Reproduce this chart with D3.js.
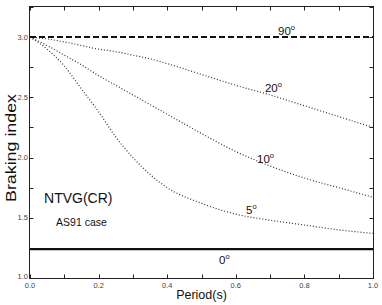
<!DOCTYPE html>
<html>
<head>
<meta charset="utf-8">
<script src="https://cdn.jsdelivr.net/npm/d3@7/dist/d3.min.js"></script>
<style>
  body { margin: 0; background: #fff; }
  text { font-family: "Liberation Sans", Arial, Helvetica, sans-serif; }
</style>
</head>
<body>
<svg id="chart" width="382" height="305"></svg>
<script>
'use strict';

// period samples (s) shared by the dotted curves
var periods = [0, 0.05, 0.1, 0.15, 0.2, 0.25, 0.3, 0.35, 0.4, 0.5, 0.6, 0.7, 0.8, 0.9, 1.0];
var curve20 = [3.0, 2.985, 2.96, 2.93, 2.90, 2.88, 2.85, 2.82, 2.78, 2.69, 2.60, 2.52, 2.43, 2.34, 2.25];
var curve10 = [3.0, 2.93, 2.85, 2.77, 2.68, 2.60, 2.52, 2.44, 2.36, 2.20, 2.05, 1.93, 1.83, 1.75, 1.67];
var curve5 = [3.0, 2.90, 2.76, 2.57, 2.38, 2.17, 2.00, 1.86, 1.75, 1.62, 1.53, 1.48, 1.44, 1.40, 1.37];
var level90 = 3.0;
var level0 = 1.24;

var xTicks = [0, 0.2, 0.4, 0.6, 0.8, 1.0];
var yTicks = [1.0, 1.5, 2.0, 2.5, 3.0];

// angle labels: [text, period, value]
var angleLabels = [
  ['90', 0.723, 3.017],
  ['20', 0.685, 2.544],
  ['10', 0.662, 1.954],
  ['5', 0.630, 1.531],
  ['0', 0.551, 1.116]
];

var margin = { left: 30, right: 9, top: 7, bottom: 27 };
var width = 382 - margin.left - margin.right;
var height = 305 - margin.top - margin.bottom;

var svg = d3.select('#chart');
var g = svg.append('g')
  .attr('transform', 'translate(' + margin.left + ',' + margin.top + ')');

var x = d3.scaleLinear().domain([0, 1]).range([0, width]);
var y = d3.scaleLinear().domain([1, 3.25]).range([height, 0]);

var TICK = 3.5;
var minorX = d3.range(0, 1.0001, 0.1);
var minorY = d3.range(1, 3.2501, 0.25);

// ticks pointing inwards on all four sides
var tickLayer = g.append('g').attr('stroke', '#222').attr('stroke-width', 1);
minorX.forEach(function(v) {
  var px = Math.round(x(v)) + 0.5;
  tickLayer.append('line').attr('x1', px).attr('x2', px).attr('y1', height).attr('y2', height - TICK);
  tickLayer.append('line').attr('x1', px).attr('x2', px).attr('y1', 0).attr('y2', TICK);
});
minorY.forEach(function(v) {
  var py = Math.round(y(v)) + 0.5;
  tickLayer.append('line').attr('x1', 0).attr('x2', TICK).attr('y1', py).attr('y2', py);
  tickLayer.append('line').attr('x1', width).attr('x2', width - TICK).attr('y1', py).attr('y2', py);
});

// tick labels
g.selectAll('text.xt')
  .data(xTicks)
  .enter().append('text')
  .attr('class', 'xt')
  .attr('x', function(d) { return x(d); })
  .attr('y', height + 9.5)
  .attr('text-anchor', 'middle')
  .attr('font-size', 7.5)
  .attr('fill', '#444')
  .text(function(d) { return d3.format('.1f')(d); });

g.selectAll('text.yt')
  .data(yTicks)
  .enter().append('text')
  .attr('class', 'yt')
  .attr('x', -2)
  .attr('y', function(d) { return y(d); })
  .attr('dy', d => d === 1 ? '0.1em' : '0.33em')
  .attr('text-anchor', 'end')
  .attr('font-size', 7.5)
  .attr('fill', '#444')
  .text(function(d) { return d3.format('.1f')(d); });

// lines
var line = d3.line()
  .x(function(d) { return x(d[0]); })
  .y(function(d) { return y(d[1]); })
  .curve(d3.curveMonotoneX);

[curve20, curve10, curve5].forEach(function(values) {
  g.append('path')
    .datum(periods.map(function(p, i) { return [p, values[i]]; }))
    .attr('d', line)
    .attr('fill', 'none')
    .attr('stroke', '#333')
    .attr('stroke-width', 1.2)
    .attr('stroke-dasharray', '1,2');
});

g.append('line')
  .attr('x1', x(0)).attr('x2', x(1))
  .attr('y1', y(level90)).attr('y2', y(level90))
  .attr('stroke', '#111')
  .attr('stroke-width', 2)
  .attr('stroke-dasharray', '6,3');

g.append('line')
  .attr('x1', x(0)).attr('x2', x(1))
  .attr('y1', y(level0)).attr('y2', y(level0))
  .attr('stroke', '#111')
  .attr('stroke-width', 2.2);

// frame
g.append('rect')
  .attr('x', -0.5).attr('y', -0.5)
  .attr('width', width + 1).attr('height', height + 1)
  .attr('fill', 'none')
  .attr('stroke', '#222')
  .attr('stroke-width', 1);

// angle labels with superscript degree
angleLabels.forEach(function(d) {
  var t = g.append('text')
    .attr('x', x(d[1]))
    .attr('y', y(d[2]))
    .attr('font-size', 11.5)
    .attr('fill', '#111');
  t.append('tspan').text(d[0]);
  t.append('tspan').attr('dy', -5).attr('font-size', 7.5).text('o');
});

g.append('text')
  .attr('x', x(0.041))
  .attr('y', y(1.622))
  .attr('font-size', 14)
  .attr('fill', '#111')
  .text('NTVG(CR)');

g.append('text')
  .attr('x', x(0.076))
  .attr('y', y(1.43))
  .attr('font-size', 10.5)
  .attr('fill', '#111')
  .text('AS91 case');

// axis titles
svg.append('text')
  .attr('x', margin.left + width / 2)
  .attr('y', 299)
  .attr('text-anchor', 'middle')
  .attr('font-size', 12.5)
  .attr('fill', '#111')
  .text('Period(s)');

svg.append('text')
  .attr('transform', 'translate(16,148) rotate(-90)')
  .attr('text-anchor', 'middle')
  .attr('font-size', 15)
  .attr('textLength', 108)
  .attr('lengthAdjust', 'spacingAndGlyphs')
  .attr('fill', '#111')
  .text('Braking index');
</script>
</body>
</html>
